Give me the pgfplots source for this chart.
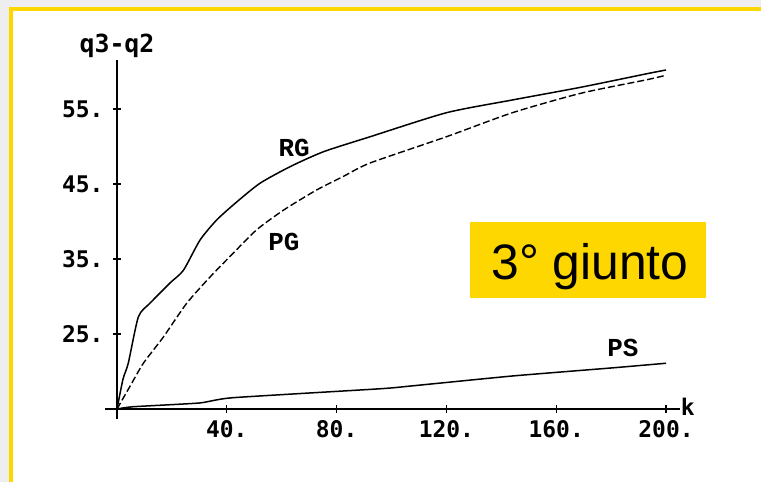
\documentclass[border=0pt]{standalone}
\usepackage{fontspec}
\usepackage{pgfplots}
\pgfplotsset{compat=1.18}
\setmainfont{Liberation Sans}
\newfontfamily\monof{DejaVu Sans Mono}
\newfontfamily\courf{Liberation Mono}
\definecolor{gold}{RGB}{255,215,0}
\definecolor{frameg}{RGB}{238,238,238}

\pgfplotstableread{
k v
0 15
2.2 19.0
4.1 21.1
7.8 27.3
12 29.1
19.3 31.8
24.2 33.5
30.2 37.5
36.3 40.2
43.6 42.6
52.1 45.1
63 47.3
75.2 49.3
92.2 51.3
120 54.5
144 56.2
169 57.9
193 59.7
200 60.2
}\RGtable

\pgfplotstableread{
k v
0 15
4.7 18.0
9.6 21.1
16.9 24.6
25.4 29.1
33.9 32.6
42.4 35.8
50.9 38.9
60.6 41.5
72.7 44.2
82.4 46.0
92.2 47.8
120 51.3
144 54.5
169 57.1
193 58.9
200 59.5
}\PGtable

\pgfplotstableread{
k v
0 15
5.8 15.3
30 15.8
42 16.5
96 17.7
108 18.1
144 19.4
181 20.5
200 21.1
}\PStable

\begin{document}
\begin{tikzpicture}[x=1bp,y=1bp]
\useasboundingbox (0,0) rectangle (761,482);
\fill[white] (0,0) rectangle (761,482);
\fill[frameg] (0,475) rectangle (761,482);
\fill[frameg] (0,0) rectangle (9,475);
\fill[gold] (9,471) rectangle (761,475);
\fill[gold] (9,0) rectangle (13,475);
\fill[gold] (470,184) rectangle (706,260);
\node[anchor=base, font=\fontsize{50}{50}\selectfont, inner sep=0pt] at (590,202) {3° giunto};
\begin{axis}[
  at={(117bp,73bp)}, anchor=south west,
  x=2.745bp, y=7.5bp,
  xmin=0, xmax=205, ymin=15, ymax=61.5,
  enlargelimits=false, clip=false,
  axis x line=bottom, axis y line=left,
  axis line style={-, line width=1.4bp, black},
  x axis line style={shorten <=-12bp},
  y axis line style={shorten <=-10bp},
  xtick={40,80,120,160,200}, xticklabels={40.,80.,120.,160.,200.},
  ytick={25,35,45,55}, yticklabels={25.,35.,45.,55.},
  tick align=center, major tick length=8bp,
  tick style={line width=1.2bp, black},
  ticklabel style={font=\monof\bfseries\fontsize{23}{23}\selectfont},
  xticklabel style={yshift=-4bp},
  yticklabel style={xshift=-6bp},
  every axis x label/.style={at={(axis description cs:1,0)}, anchor=west, inner sep=1bp, yshift=2bp, font=\monof\bfseries\fontsize{23}{23}\selectfont},
  every axis y label/.style={at={(axis description cs:0,1)}, anchor=south, font=\monof\bfseries\fontsize{25}{25}\selectfont, inner sep=2bp},
  xlabel={k}, ylabel={q3-q2},
]
\addplot[black, line width=1.5bp, smooth, tension=0.4] table[x=k,y=v] {\RGtable};
\addplot[black, line width=1.4bp, dash pattern=on 7bp off 3bp, smooth, tension=0.4] table[x=k,y=v] {\PGtable};
\addplot[black, line width=1.5bp, smooth, tension=0.3] table[x=k,y=v] {\PStable};
\node[font=\courf\bfseries\fontsize{26}{26}\selectfont] at (axis cs:64.5,49.8) {RG};
\node[font=\courf\bfseries\fontsize{26}{26}\selectfont] at (axis cs:60.8,37.3) {PG};
\node[font=\courf\bfseries\fontsize{26}{26}\selectfont] at (axis cs:184.3,23.1) {PS};
\end{axis}
\end{tikzpicture}
\end{document}
